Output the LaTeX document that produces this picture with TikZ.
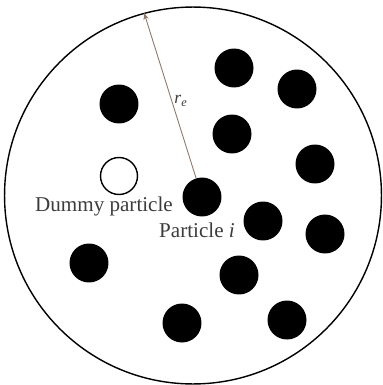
\documentclass[tikz,border=0pt]{standalone}
\usepackage{fontspec}
\setmainfont{Liberation Serif}
\usepackage{xcolor}
\usetikzlibrary{arrows.meta}
\definecolor{labelgray}{RGB}{60,60,60}
\definecolor{radiusline}{RGB}{140,120,110}
\tikzset{
  boundary/.style={circle,draw=black,line width=0.8pt,minimum size=7.54cm,inner sep=0pt},
  fluid/.style={circle,fill=black,minimum size=0.78cm,inner sep=0pt},
  dummy/.style={circle,draw=black,line width=0.8pt,fill=white,minimum size=0.74cm,inner sep=0pt},
  tag/.style={text=labelgray,font=\fontsize{12}{14}\selectfont,inner sep=0pt},
  radiusarrow/.style={-{Stealth[length=4pt,width=3pt]},line width=0.5pt,draw=radiusline}
}
\begin{document}
\begin{tikzpicture}[x=0.02cm,y=-0.02cm]
  \useasboundingbox (0,0) rectangle (382,385);
  \node[boundary] (dom) at (193,195.5) {};
  % fluid particles
  \node[fluid] (p1) at (119,104) {};
  \node[fluid] (p2) at (234,68) {};
  \node[fluid] (p3) at (297,89) {};
  \node[fluid] (p4) at (232,134) {};
  \node[fluid] (p5) at (315,164) {};
  \node[fluid] (pi) at (202,197) {};
  \node[fluid] (p7) at (263,221) {};
  \node[fluid] (p8) at (325,234) {};
  \node[fluid] (p9) at (89,263) {};
  \node[fluid] (p10) at (239,275) {};
  \node[fluid] (p11) at (182,323) {};
  \node[fluid] (p12) at (287,320) {};
  \node[dummy] (dm) at (119,176) {};
  % labels
  \node[tag] (dmlabel) at (104,206) {Dummy particle};
  \node[tag] (pilabel) at (197,230) {Particle \textit{i}};
  \draw[radiusarrow] (pi) -- (dom.105);
  \node[tag,font=\fontsize{10}{12}\selectfont] (re) at (181,101) {\textit{r}\textsubscript{\textit{e}}};
\end{tikzpicture}
\end{document}
